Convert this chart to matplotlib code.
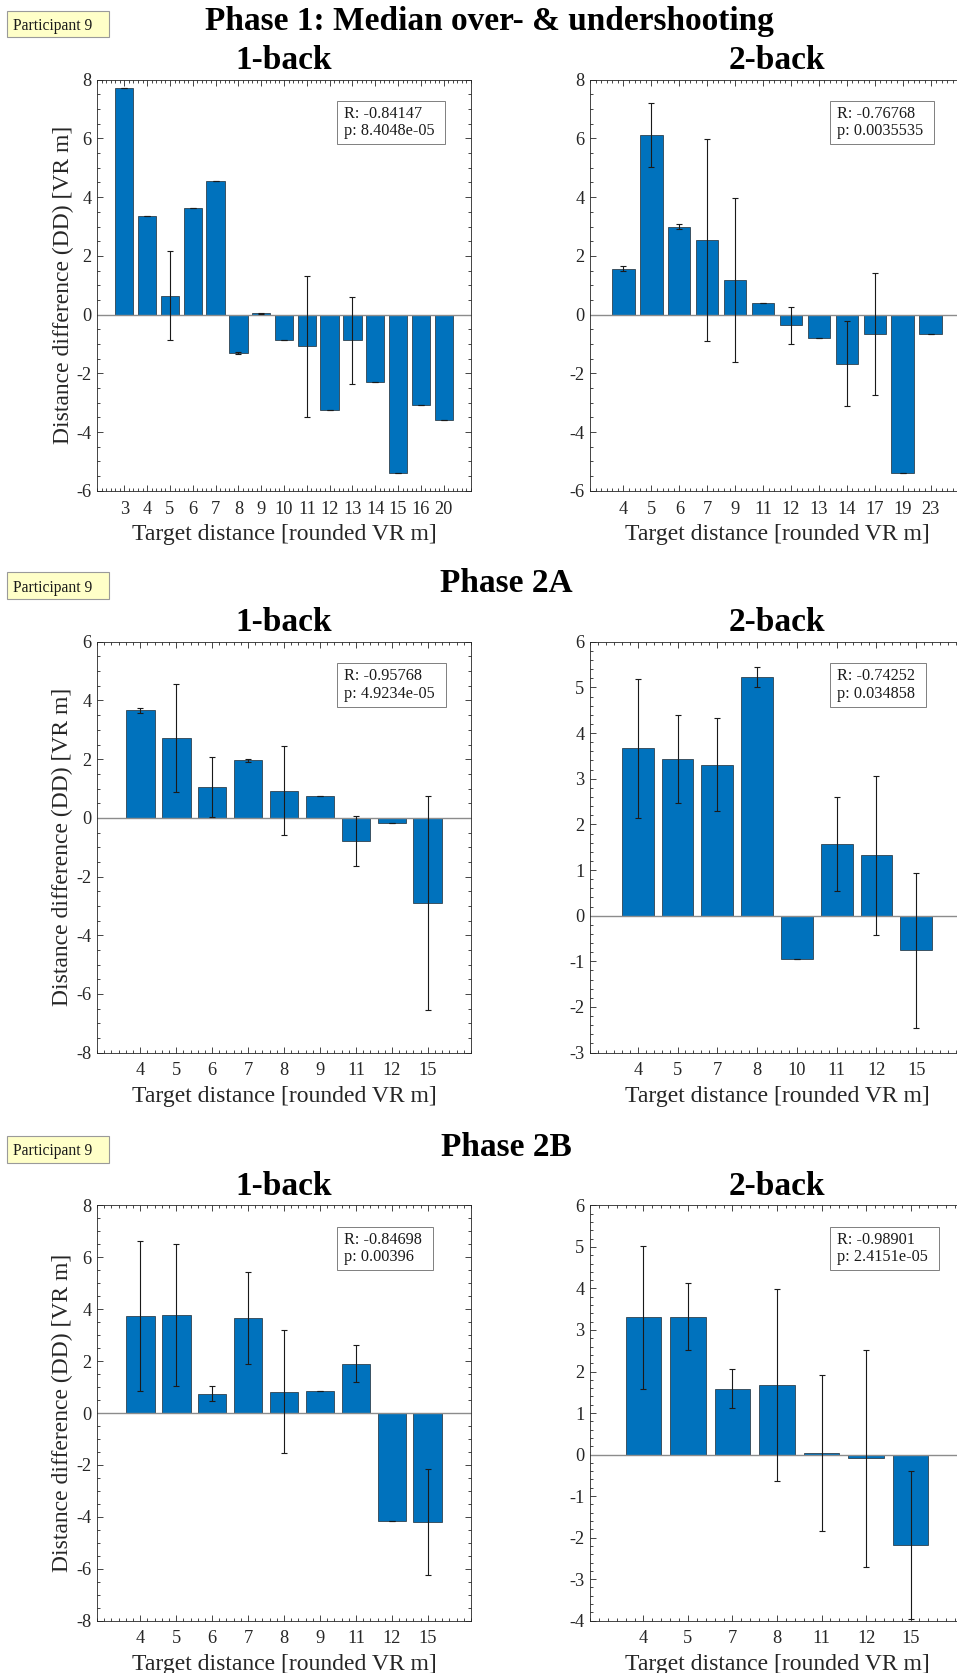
import matplotlib
matplotlib.use("Agg")
import matplotlib.pyplot as plt
from matplotlib.patches import Rectangle
from matplotlib.ticker import MultipleLocator
import numpy as np

plt.rcParams["font.family"] = ["Liberation Serif", "DejaVu Serif"]
plt.rcParams["axes.unicode_minus"] = False

participant = "Participant 9"
x_label = "Target distance [rounded VR m]"
y_label = "Distance difference (DD) [VR m]"

# ---- Phase 1: median over- & undershooting ----
p1_title = "Phase 1: Median over- & undershooting"
p1_1back_dist = [3, 4, 5, 6, 7, 8, 9, 10, 11, 12, 13, 14, 15, 16, 20]
p1_1back_dd = [7.72, 3.35, 0.64, 3.64, 4.55, -1.31, 0.05, -0.88, -1.08, -3.25,
               -0.88, -2.31, -5.41, -3.09, -3.60]
p1_1back_err = [0, 0, 1.52, 0, 0, 0.02, 0.02, 0, 2.39, 0, 1.49, 0, 0, 0, 0]
p1_1back_stats = ("-0.84147", "8.4048e-05")

p1_2back_dist = [4, 5, 6, 7, 9, 11, 12, 13, 14, 17, 19, 23]
p1_2back_dd = [1.57, 6.12, 3.00, 2.54, 1.19, 0.38, -0.37, -0.78, -1.67, -0.67,
               -5.39, -0.67]
p1_2back_err = [0.07, 1.10, 0.09, 3.44, 2.79, 0, 0.62, 0, 1.44, 2.08, 0, 0]
p1_2back_stats = ("-0.76768", "0.0035535")

# ---- Phase 2A ----
p2a_title = "Phase 2A"
p2a_1back_dist = [4, 5, 6, 7, 8, 9, 11, 12, 15]
p2a_1back_dd = [3.67, 2.72, 1.04, 1.96, 0.93, 0.74, -0.78, -0.18, -2.91]
p2a_1back_err = [0.08, 1.85, 1.02, 0.06, 1.51, 0, 0.85, 0, 3.64]
p2a_1back_stats = ("-0.95768", "4.9234e-05")

p2a_2back_dist = [4, 5, 7, 8, 10, 11, 12, 15]
p2a_2back_dd = [3.67, 3.43, 3.31, 5.23, -0.94, 1.57, 1.32, -0.76]
p2a_2back_err = [1.52, 0.97, 1.02, 0.21, 0, 1.02, 1.75, 1.70]
p2a_2back_stats = ("-0.74252", "0.034858")

# ---- Phase 2B ----
p2b_title = "Phase 2B"
p2b_1back_dist = [4, 5, 6, 7, 8, 9, 11, 12, 15]
p2b_1back_dd = [3.74, 3.77, 0.75, 3.66, 0.82, 0.86, 1.90, -4.15, -4.19]
p2b_1back_err = [2.90, 2.74, 0.29, 1.76, 2.37, 0, 0.71, 0, 2.05]
p2b_1back_stats = ("-0.84698", "0.00396")

p2b_2back_dist = [4, 5, 7, 8, 11, 12, 15]
p2b_2back_dd = [3.31, 3.32, 1.59, 1.68, 0.03, -0.09, -2.17]
p2b_2back_err = [1.72, 0.80, 0.47, 2.31, 1.88, 2.61, 1.78]
p2b_2back_stats = ("-0.98901", "2.4151e-05")

W, H = 957, 1673
fig = plt.figure(figsize=(W / 100, H / 100), dpi=100)
fig.patch.set_facecolor("white")

BAR = "#0072BD"
AX_COL = "#262626"
stat_texts = []


def fx(px):
    return px / W


def fy(py):
    return 1 - py / H


def panel(left_px, top_px, bottom_px, dist, dd, err, stats, ylim, ystep,
          title, ylab):
    ax = fig.add_axes([fx(left_px), fy(bottom_px), 374 / W,
                       (bottom_px - top_px) / H])
    x = np.arange(1, len(dist) + 1)
    ax.bar(x, dd, width=0.8, color=BAR, edgecolor="#1f2a33", linewidth=0.5,
           zorder=2)
    ax.axhline(0, color="#8c8c8c", lw=1.0, zorder=2.5)
    ax.errorbar(x, dd, yerr=err, fmt="none", ecolor="#1a1a1a",
                elinewidth=0.8, capsize=2.4, capthick=0.8, zorder=3)
    ax.set_xlim(1 - 1.2, len(dist) + 1.2)
    ax.set_ylim(*ylim)
    ax.set_xticks(x, [str(d) for d in dist])
    ax.xaxis.set_minor_locator(MultipleLocator(0.2))
    ax.yaxis.set_major_locator(MultipleLocator(ystep))
    ax.yaxis.set_minor_locator(MultipleLocator(0.5 if ystep == 2 else 0.2))
    ax.tick_params(which="both", direction="in", top=True, right=True,
                   colors=AX_COL, width=0.6, labelsize=13.2)
    ax.tick_params(which="major", length=4)
    ax.tick_params(which="minor", length=2)
    ax.tick_params(axis="x", pad=7)
    ax.tick_params(axis="y", pad=4)
    for s in ax.spines.values():
        s.set_color(AX_COL)
        s.set_linewidth(0.6)
    ax.set_xlabel(x_label, fontsize=17, color=AX_COL, labelpad=4.5)
    if ylab:
        ax.set_ylabel(y_label, fontsize=17, color=AX_COL, labelpad=2)
    ax.set_title(title, fontsize=24, fontweight="bold", pad=7.5)
    t = ax.text(0.660, 0.936, f"R: {stats[0]}\np: {stats[1]}",
                transform=ax.transAxes, ha="left", va="top", fontsize=11.7,
                linespacing=1.12, color="#1a1a1a", zorder=5)
    stat_texts.append((ax, t))
    return ax


def participant_box(top_px, bottom_px):
    fig.add_artist(Rectangle((fx(7), fy(bottom_px)), fx(102),
                             (bottom_px - top_px) / H,
                             transform=fig.transFigure, fc="#ffffc8",
                             ec="#9a9a9a", lw=0.8))
    fig.text(fx(13), fy((top_px + bottom_px) / 2), participant, fontsize=11.2,
             ha="left", va="center_baseline", color="#1a1a1a")


rows = [
    (p1_title, 489.5, 30.0, 10.7, 37.3, 79.7, 490.8,
     (p1_1back_dist, p1_1back_dd, p1_1back_err, p1_1back_stats, (-6, 8), 2),
     (p1_2back_dist, p1_2back_dd, p1_2back_err, p1_2back_stats, (-6, 8), 2)),
    (p2a_title, 506.7, 592.0, 572.4, 599.1, 641.8, 1052.6,
     (p2a_1back_dist, p2a_1back_dd, p2a_1back_err, p2a_1back_stats, (-8, 6), 2),
     (p2a_2back_dist, p2a_2back_dd, p2a_2back_err, p2a_2back_stats, (-3, 6), 1)),
    (p2b_title, 506.7, 1155.6, 1136.0, 1162.7, 1205.4, 1620.7,
     (p2b_1back_dist, p2b_1back_dd, p2b_1back_err, p2b_1back_stats, (-8, 8), 2),
     (p2b_2back_dist, p2b_2back_dd, p2b_2back_err, p2b_2back_stats, (-4, 6), 1)),
]

for (title, cx, base, pb_top, pb_bot, ax_top, ax_bot, one, two) in rows:
    fig.text(fx(cx), fy(base), title, fontsize=24, fontweight="bold",
             ha="center", va="baseline")
    participant_box(pb_top, pb_bot)
    panel(97, ax_top, ax_bot, *one[:4], one[4], one[5], "1-back", True)
    panel(590, ax_top, ax_bot, *two[:4], two[4], two[5], "2-back", False)

# framed boxes around the correlation statistics, sized to the text
fig.canvas.draw()
renderer = fig.canvas.get_renderer()
for ax, t in stat_texts:
    bb = t.get_window_extent(renderer)
    inv = ax.transAxes.inverted()
    (a0, b0), (a1, b1) = inv.transform([(bb.x0 - 7, bb.y0 - 5),
                                        (bb.x1 + 11, bb.y1 + 5)])
    ax.add_patch(Rectangle((a0, b0), a1 - a0, b1 - b0, transform=ax.transAxes,
                           fc="white", ec="#7f7f7f", lw=0.7, zorder=4,
                           clip_on=False))

fig.savefig("out.png", dpi=100)
